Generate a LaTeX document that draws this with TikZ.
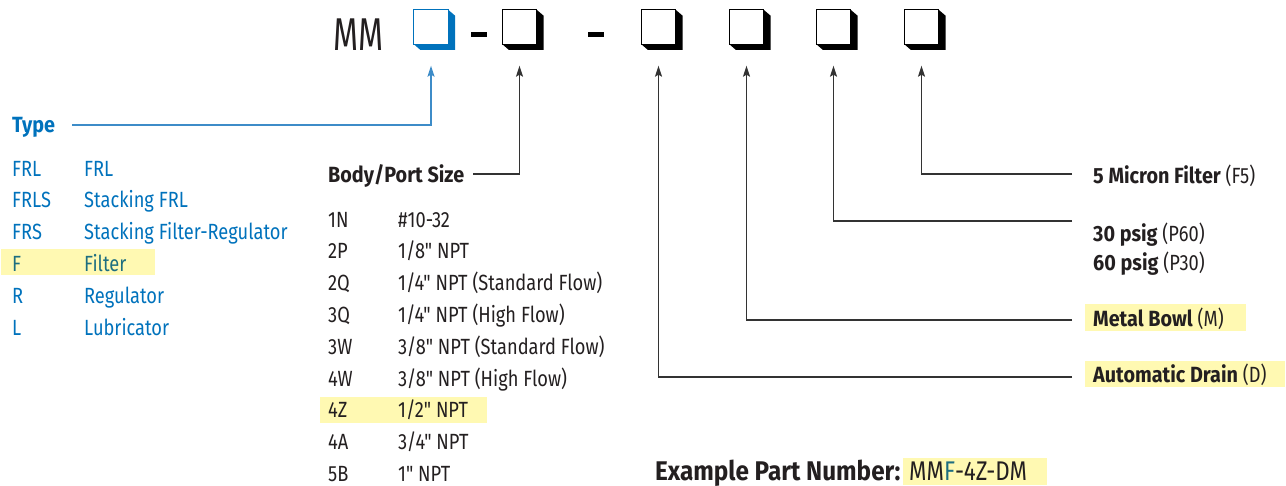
\documentclass[tikz,border=0pt]{standalone}
\usepackage{fontspec}
\setmainfont[FakeStretch=0.83]{Fira Sans}
\newfontfamily\rf[FakeStretch=0.83]{Fira Sans}
\newfontfamily\bff[FakeStretch=0.9]{Fira Sans}
\newfontfamily\mmfont[FakeStretch=0.7]{Fira Sans}
\usetikzlibrary{arrows.meta}
\definecolor{cblue}{HTML}{0072BC}
\definecolor{lblue}{HTML}{3D8CC8}
\definecolor{hyel}{HTML}{FFF9B2}
\definecolor{teal2}{HTML}{1D6E80}
\definecolor{ink}{HTML}{231F20}
\definecolor{lgray}{HTML}{333333}
\newcommand\bodysz{\fontsize{22}{26}\selectfont}
\newcommand\expsz{\fontsize{27}{30}\selectfont}
\newcommand\B[1]{{\bff\bfseries #1}}
\newcommand\codebox[3]{%
  \node[cbox] (#1) at (#2,27) {};
  \fill[#3] (#1.north east) -- ++(7,6) -- ++(0,34) -- ++(-35,0) -- (#1.south west) -- (#1.south east) -- cycle;
  \draw[#3, line width=1.1pt] (#1.north west) rectangle (#1.south east);
}
\begin{document}
\begin{tikzpicture}[x=1pt,y=-1pt,
  cbox/.style={minimum width=34pt, minimum height=34pt, inner sep=0pt},
  txt/.style={anchor=base west, inner sep=0pt, font=\rf\bodysz, text=ink},
  btxt/.style={txt, font=\bff\bodysz\bfseries},
  btx/.style={txt, text=cblue},
  conn/.style={draw=lgray, line width=1.3pt, -{Stealth[length=11pt,width=7pt,inset=2pt]}},
  bconn/.style={draw=lblue, line width=1.3pt, -{Stealth[length=11pt,width=7pt,inset=2pt]}},
  hl/.style={fill=hyel, draw=none}
]
\useasboundingbox (0,0) rectangle (1286,485);

% code line
\node[anchor=base west, inner sep=0pt, font=\mmfont\fontsize{46}{50}\selectfont, text=ink] (mm) at (333,50) {MM};
\codebox{b1}{431}{cblue}
\codebox{b2}{519.5}{black}
\codebox{b3}{658.5}{black}
\codebox{b4}{746.5}{black}
\codebox{b5}{833.5}{black}
\codebox{b6}{921.5}{black}
\fill[black] (471,32) rectangle (487,37);
\fill[black] (588,32) rectangle (604,37);

% highlights
\fill[hl] (1,249) rectangle (155,275);
\fill[hl] (320,397) rectangle (487,423);
\fill[hl] (1085,304) rectangle (1246,331);
\fill[hl] (1085,361) rectangle (1285,387);
\fill[hl] (903,458) rectangle (1047,485);

% Type
\node[btx, font=\bff\bodysz\bfseries] (type) at (12,132) {Type};
\foreach \c/\d [count=\i from 0] in {FRL/FRL, FRLS/Stacking FRL, FRS/Stacking Filter-Regulator, F/Filter, R/Regulator, L/Lubricator}{
  \ifnum\i=3
    \node[btx, text=teal2] (tc\i) at (12,176+31.8*\i) {\c};
    \node[btx, text=teal2] (td\i) at (84,176+31.8*\i) {\d};
  \else
    \node[btx] (tc\i) at (12,176+31.8*\i) {\c};
    \node[btx] (td\i) at (84,176+31.8*\i) {\d};
  \fi
}
\coordinate (tl) at (72,125);
\draw[bconn] (tl) -| ([yshift=-21.5pt]b1.south);

% Body/Port Size
\node[btxt] (body) at (328,182) {Body/Port Size};
\foreach \c/\d [count=\i from 0] in {1N/{\#10-32}, 2P/{1/8" NPT}, 2Q/{1/4" NPT (Standard Flow)}, 3Q/{1/4" NPT (High Flow)}, 3W/{3/8" NPT (Standard Flow)}, 4W/{3/8" NPT (High Flow)}, 4Z/{1/2" NPT}, 4A/{3/4" NPT}, 5B/{1" NPT}}{
  \node[txt] (pc\i) at (328,227+31.8*\i) {\c};
  \node[txt] (pd\i) at (398,227+31.8*\i) {\d};
}
\coordinate (bl) at (473,174);
\draw[conn] (bl) -| ([yshift=-21.5pt]b2.south);

% right options
\node[txt] (o1) at (1093,183) {\B{5 Micron Filter} (F5)};
\node[txt] (o2) at (1093,241) {\B{30 psig} (P60)};
\node[txt] (o3) at (1093,270) {\B{60 psig} (P30)};
\node[txt] (o4) at (1093,326) {\B{Metal Bowl} (M)};
\node[txt] (o5) at (1093,382) {\B{Automatic Drain} (D)};
\coordinate (r6) at (1072,174);
\coordinate (r5) at (1072,221);
\coordinate (r4) at (1072,320);
\coordinate (r3) at (1072,377);
\draw[conn] (r6) -| ([yshift=-21.5pt]b6.south);
\draw[conn] (r5) -| ([yshift=-21.5pt]b5.south);
\draw[conn] (r4) -| ([yshift=-21.5pt]b4.south);
\draw[conn] (r3) -| ([yshift=-21.5pt]b3.south);

% example
\node[anchor=base west, inner sep=0pt, font=\bff\expsz\bfseries, text=ink] (ex) at (655,480) {Example Part Number:};
\node[anchor=base west, inner sep=0pt, font=\rf\expsz, text=ink] (exn) at (909,480) {MM\textcolor{teal2}{F}-4Z-DM};
\end{tikzpicture}
\end{document}
